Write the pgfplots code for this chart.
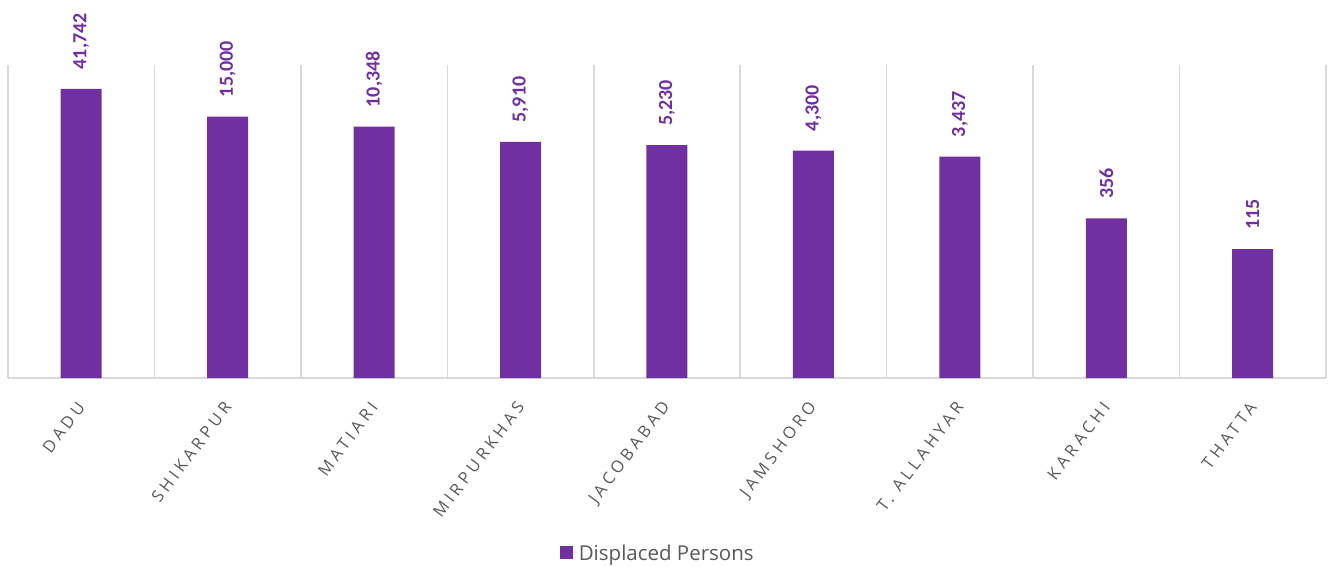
\documentclass[border=0pt]{standalone}
\usepackage{fontspec}
\setmainfont{Carlito}
\newfontfamily\spaced[LetterSpace=24]{Open Sans}
\newfontfamily\legfont{Open Sans}
\usepackage{pgfplots}
\usepackage{pgfplotstable}
\pgfplotsset{compat=1.18}
\definecolor{barpurple}{HTML}{7030A0}
\definecolor{gridgray}{HTML}{D9D9D9}
\definecolor{txtgray}{HTML}{595959}
\pgfplotstableread{
x y label
0 41742 41,742
1 15000 15,000
2 10348 10,348
3 5910 5,910
4 5230 5,230
5 4300 4,300
6 3437 3,437
7 356 356
8 115 115
}\datatable
\begin{document}
\begin{tikzpicture}[x=1bp,y=1bp]
\useasboundingbox (-8bp,-189bp) rectangle (1331bp,378bp);
\begin{axis}[
  at={(0,0)}, anchor=south west,
  scale only axis, width=1318bp, height=313bp,
  ymode=log, ymin=1, ymax=100000,
  xmin=-0.5, xmax=8.5,
  axis y line=none,
  axis x line*=bottom,
  x axis line style={-, draw=gridgray, line width=1.5bp},
  xtick={0,...,8},
  xticklabels={DADU,SHIKARPUR,MATIARI,MIRPURKHAS,JACOBABAD,JAMSHORO,T. ALLAHYAR,KARACHI,THATTA},
  major tick length=0pt,
  minor xtick={-0.5,0.5,...,8.5},
  minor tick length=0pt,
  xminorgrids,
  minor grid style={draw=gridgray, line width=1.5bp},
  xticklabel style={xshift=0bp, yshift=-26bp, rotate=53, anchor=east, font=\fontsize{16.5bp}{19bp}\spaced, text=txtgray, inner sep=0pt},
  ybar, bar width=41bp,
  nodes near coords,
  point meta=explicit symbolic,
  every node near coord/.append style={rotate=90, anchor=west, font=\fontsize{20bp}{24bp}\selectfont\bfseries, text=barpurple, xshift=16bp},
  legend style={at={(axis description cs:0.493,-0.559)}, anchor=center, draw=none, font=\fontsize{20.5bp}{24bp}\legfont, text=txtgray},
  legend image code/.code={\fill[barpurple] (0bp,-6.5bp) rectangle (13bp,6.5bp); \path (0bp,0bp) -- (17bp,0bp);},
]
\addplot[fill=barpurple, draw=none] table[x=x, y=y, meta=label] {\datatable};
\addlegendentry{Displaced Persons}
\end{axis}
\end{tikzpicture}
\end{document}
